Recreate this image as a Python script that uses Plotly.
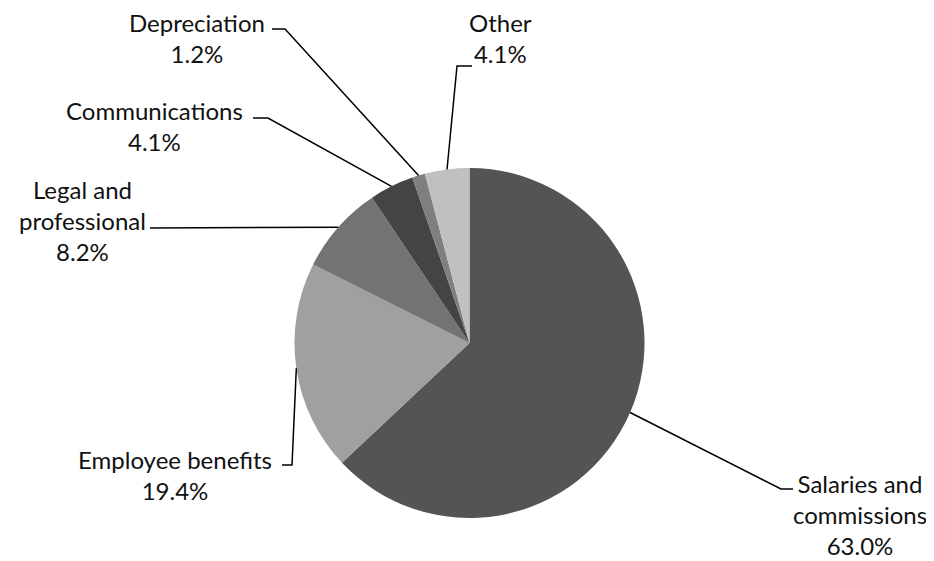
import math
import plotly.graph_objects as go

# ---- data ----
categories = ["Salaries and commissions", "Employee benefits", "Legal and professional",
              "Communications", "Depreciation", "Other"]
values = [63.0, 19.4, 8.2, 4.1, 1.2, 4.1]
label_texts = ["Salaries and<br>commissions<br>63.0%", "Employee benefits<br>19.4%",
               "Legal and<br>professional<br>8.2%", "Communications<br>4.1%",
               "Depreciation<br>1.2%", "Other<br>4.1%"]
colors = ["#545454", "#a0a0a0", "#737373", "#444444", "#7f7f7f", "#c0c0c0"]

# ---- layout constants (window pixels) ----
WIN_W, WIN_H = 934, 561
OFF = 8  # default page body margin
W, H = WIN_W - OFF, WIN_H - OFF
CX, CY, R = 469.5, 343.0, 175.0
label_pos = [(860, 514), (175, 475), (82, 220), (154, 126), (197, 38), (500, 38)]
leader_pts = [
    [(781, 489), (793, 489)],
    [(292, 465), (282, 465)],
    [(150, 228)],
    [(268, 118), (253, 118)],
    [(285, 29), (272, 29)],
    [(457, 66), (472, 66)],
]

def px(x):
    return (x - OFF) / W

def py(y):
    return 1 - (y - OFF) / H

fig = go.Figure(go.Pie(
    labels=categories, values=values, sort=False, direction="clockwise", rotation=0,
    marker=dict(colors=colors, line=dict(width=0)),
    textinfo="none", hoverinfo="label+percent", showlegend=False,
    domain=dict(x=[px(CX - R), px(CX + R)], y=[py(CY + R), py(CY - R)]),
))

total = sum(values)
cum = 0.0
shapes = []
annotations = []
for i, v in enumerate(values):
    mid = (cum + v / 2) / total * 2 * math.pi
    cum += v
    ax = CX + R * math.sin(mid)
    ay = CY - R * math.cos(mid)
    pts = [(ax, ay)] + leader_pts[i]
    path = "M " + " L ".join(f"{px(x):.5f},{py(y):.5f}" for x, y in pts)
    shapes.append(dict(type="path", xref="paper", yref="paper", path=path,
                       line=dict(color="#000000", width=1.5)))
    lx, ly = label_pos[i]
    annotations.append(dict(x=px(lx), y=py(ly), xref="paper", yref="paper",
                            text=label_texts[i], showarrow=False, xanchor="center",
                            yanchor="middle", align="center", borderpad=0,
                            font=dict(family="Lato", size=24, color="#111111")))

fig.update_layout(
    width=W, height=H, margin=dict(l=0, r=0, t=0, b=0),
    paper_bgcolor="white", plot_bgcolor="white",
    shapes=shapes, annotations=annotations,
)
fig.write_html("out.html")
